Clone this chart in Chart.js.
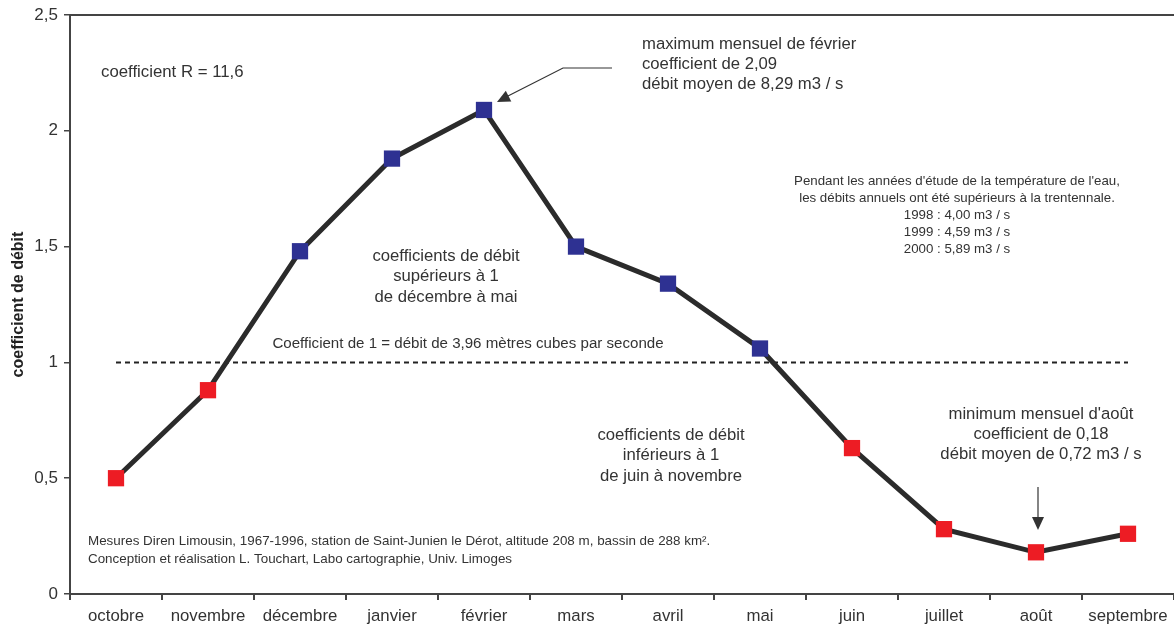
<!DOCTYPE html>
<html>
<head>
<meta charset="utf-8">
<script src="https://cdn.jsdelivr.net/npm/chart.js@4"></script>
<style>
  body { margin: 0; background: #fff; }
</style>
</head>
<body>
<canvas id="chart" width="1174" height="628"></canvas>
<script>
// Coefficients mensuels de débit, station Saint-Junien le Dérot
const months = ["octobre", "novembre", "décembre", "janvier", "février", "mars",
  "avril", "mai", "juin", "juillet", "août", "septembre"];
const coefficients = [0.50, 0.88, 1.48, 1.88, 2.09, 1.50, 1.34, 1.06, 0.63, 0.28, 0.18, 0.26];
const referenceLine = [1, 1, 1, 1, 1, 1, 1, 1, 1, 1, 1, 1];

const RED = "#ed1c24";
const BLUE = "#2e3192";
const TEXT = "#333333";
const FONT = "'Liberation Sans', Arial, sans-serif";

// annotations: texts and arrows drawn on top
const notesPlugin = {
  id: "notes",
  afterDraw(chart) {
    const ctx = chart.ctx;
    const area = chart.chartArea;
    ctx.save();

    // top frame line
    ctx.strokeStyle = "#444";
    ctx.lineWidth = 2;
    ctx.beginPath();
    ctx.moveTo(area.left, area.top);
    ctx.lineTo(chart.width, area.top);
    ctx.stroke();

    ctx.fillStyle = TEXT;
    ctx.textBaseline = "middle";

    function lines(arr, x, y, step, size, align) {
      ctx.font = size + "px " + FONT;
      ctx.textAlign = align;
      arr.forEach((t, i) => ctx.fillText(t, x, y + i * step));
    }

    lines(["coefficient R = 11,6"], 101, 72, 0, 16.8, "left");
    lines(["maximum mensuel de février", "coefficient de 2,09", "débit moyen de 8,29 m3 / s"],
      642, 44, 20, 16.7, "left");
    lines(["Pendant les années d'étude de la température de l'eau,",
      "les débits annuels ont été supérieurs à la trentennale.",
      "1998 : 4,00 m3 / s", "1999 : 4,59 m3 / s", "2000 : 5,89 m3 / s"],
      957, 181, 17, 13.3, "center");
    lines(["coefficients de débit", "supérieurs à 1", "de décembre à mai"],
      446, 256, 20.5, 16.7, "center");
    lines(["Coefficient de 1 = débit de 3,96 mètres cubes par seconde"], 468, 344, 0, 15.1, "center");
    lines(["coefficients de débit", "inférieurs à 1", "de juin à novembre"],
      671, 435, 20.5, 16.7, "center");
    lines(["minimum mensuel d'août", "coefficient de 0,18", "débit moyen de 0,72 m3 / s"],
      1041, 414, 20, 16.7, "center");
    lines(["Mesures Diren Limousin, 1967-1996, station de Saint-Junien le Dérot, altitude 208 m, bassin de 288 km².",
      "Conception et réalisation L. Touchart, Labo cartographie, Univ. Limoges"],
      88, 541, 18, 13.4, "left");

    // arrows
    ctx.strokeStyle = "#333";
    ctx.fillStyle = "#333";
    ctx.lineWidth = 1.2;
    ctx.beginPath();
    ctx.moveTo(612, 68);
    ctx.lineTo(563, 68);
    ctx.lineTo(506, 97);
    ctx.stroke();
    arrowHead(ctx, 563, 68, 497, 102);

    ctx.beginPath();
    ctx.moveTo(1038, 487);
    ctx.lineTo(1038, 520);
    ctx.stroke();
    arrowHead(ctx, 1038, 487, 1038, 530);

    ctx.restore();
  }
};

function arrowHead(ctx, x0, y0, x1, y1) {
  const a = Math.atan2(y1 - y0, x1 - x0);
  const len = 13, half = 6;
  ctx.beginPath();
  ctx.moveTo(x1, y1);
  ctx.lineTo(x1 - len * Math.cos(a) + half * Math.sin(a), y1 - len * Math.sin(a) - half * Math.cos(a));
  ctx.lineTo(x1 - len * Math.cos(a) - half * Math.sin(a), y1 - len * Math.sin(a) + half * Math.cos(a));
  ctx.closePath();
  ctx.fill();
}

const pointColors = coefficients.map(v => (v > 1 ? BLUE : RED));

new Chart(document.getElementById("chart"), {
  type: "line",
  data: {
    labels: months,
    datasets: [
      {
        data: coefficients,
        borderColor: "#2b2b2b",
        borderWidth: 5,
        pointStyle: "rect",
        pointRadius: 11.5,
        pointBackgroundColor: pointColors,
        pointBorderColor: pointColors,
        pointBorderWidth: 0,
        tension: 0,
        clip: false,
        order: 0
      },
      {
        data: referenceLine,
        borderColor: "#222",
        borderWidth: 2,
        borderDash: [5, 4],
        pointRadius: 0,
        order: 1
      }
    ]
  },
  options: {
    responsive: false,
    animation: false,
    layout: { autoPadding: false, padding: { top: 15, right: 0, left: 0, bottom: 0 } },
    plugins: {
      legend: { display: false },
      tooltip: { enabled: false }
    },
    scales: {
      x: {
        offset: true,
        grid: {
          offset: true,
          drawOnChartArea: false,
          drawTicks: true,
          tickLength: 6,
          color: "#444",
          lineWidth: 2
        },
        border: { color: "#444", width: 2 },
        ticks: {
          color: TEXT,
          font: { family: FONT, size: 16.8 },
          padding: 6,
          maxRotation: 0
        },
        afterFit(scale) {
          scale.height = 34;
          scale.paddingLeft = 0;
          scale.paddingRight = 0;
        }
      },
      y: {
        min: 0,
        max: 2.5,
        grid: {
          drawOnChartArea: false,
          drawTicks: true,
          tickLength: 6,
          color: "#444",
          lineWidth: 1.5
        },
        border: { color: "#444", width: 2 },
        ticks: {
          stepSize: 0.5,
          color: TEXT,
          font: { family: FONT, size: 17 },
          padding: 6,
          callback: v => String(v).replace(".", ",")
        },
        title: {
          display: true,
          text: "coefficient de débit",
          color: "#222",
          font: { family: FONT, size: 16, weight: "bold" },
          padding: { top: 9, bottom: 0 }
        },
        afterFit(scale) {
          scale.width = 70;
          scale.paddingTop = 0;
          scale.paddingBottom = 0;
        }
      }
    }
  },
  plugins: [notesPlugin]
});
</script>
</body>
</html>
